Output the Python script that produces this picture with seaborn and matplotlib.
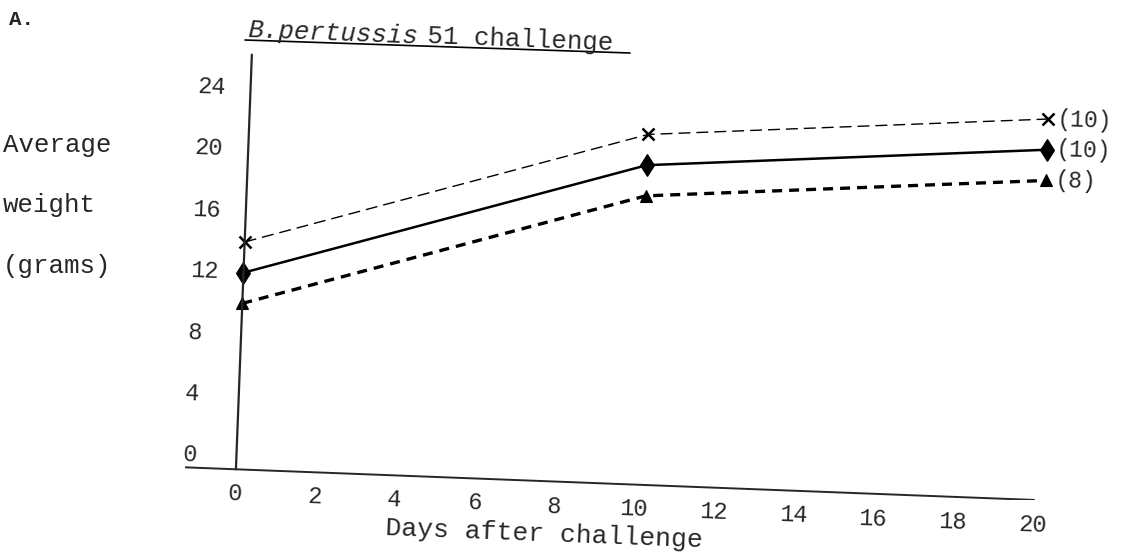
import matplotlib
matplotlib.use("Agg")
import numpy as np
import pandas as pd
import matplotlib.pyplot as plt
import seaborn as sns
from matplotlib.transforms import Affine2D
from matplotlib.lines import Line2D
import mpl_toolkits.axisartist.floating_axes as floating_axes
from mpl_toolkits.axisartist.grid_finder import FixedLocator, DictFormatter

# ---------------- data ----------------
days = [0, 10, 20]
weight_cross = [14, 22, 24]
weight_diamond = [12, 20, 22]
weight_triangle = [10, 18, 20]
n_cross = "(10)"
n_diamond = "(10)"
n_triangle = "(8)"
x_ticks = [0, 2, 4, 6, 8, 10, 12, 14, 16, 18, 20]
x_tick_labels = ["0", "2", "4", "6", "8", "10", "12", "14", "16", "18", "20"]
y_ticks = [0, 4, 8, 12, 16, 20, 24]
y_tick_labels = ["0", "4", "8", "12", "16", "20", "24"]
panel_label = "A."
title_italic = "B.pertussis"
title_rest = "51 challenge"
x_label = "Days after challenge"
y_label_lines = ["Average", "weight", "(grams)"]

# ---------------- style ----------------
sns.set_style("white")
plt.rcParams["font.family"] = ["Liberation Mono", "DejaVu Sans"]

W, H = 1129, 558
fig = plt.figure(figsize=(W / 100, H / 100), dpi=100)
fig.patch.set_facecolor("white")

# slightly rotated (scanned) frame
ANGLE = -2.2
SX, SY = 39.9, 15.37
X_EXT = (-1.28, 20.02)
Y_EXT = (-0.8, 26.2)
tr = Affine2D().scale(SX, SY).rotate_deg(ANGLE)
grid_helper = floating_axes.GridHelperCurveLinear(
    tr, extremes=(X_EXT[0], X_EXT[1], Y_EXT[0], Y_EXT[1]),
    grid_locator1=FixedLocator(x_ticks),
    grid_locator2=FixedLocator(y_ticks),
    tick_formatter1=DictFormatter(dict(zip(x_ticks, x_tick_labels))),
    tick_formatter2=DictFormatter(dict(zip(y_ticks, y_tick_labels))),
)
corners = tr.transform(np.array([[X_EXT[0], Y_EXT[0]], [X_EXT[1], Y_EXT[0]],
                                 [X_EXT[0], Y_EXT[1]], [X_EXT[1], Y_EXT[1]]]))
u0, v0 = corners.min(axis=0)
u1, v1 = corners.max(axis=0)
OX, OY = 236.4, 101.0
ax = fig.add_axes([(OX + u0) / W, (OY + v0) / H, (u1 - u0) / W, (v1 - v0) / H],
                  axes_class=floating_axes.FloatingAxes, grid_helper=grid_helper)
ax.set_xlim(u0, u1)
ax.set_ylim(v0, v1)

for side in ("left", "right", "top"):
    ax.axis[side].set_visible(False)
xa = ax.axis["bottom"]
xa.line.set_linewidth(1.4)
xa.major_ticks.set_visible(False)
xa.minor_ticks.set_visible(False)
xa.major_ticklabels.set_visible(True)
xa.major_ticklabels.set_fontsize(17)
xa.major_ticklabels.set_pad(11)
xa.label.set_visible(False)

ya = grid_helper.new_floating_axis(0, 0, axes=ax, axis_direction="left")
ax.axis["yzero"] = ya
ya.set_axis_direction("left")
ya.line.set_linewidth(1.6)
ya.major_ticks.set_visible(False)
ya.minor_ticks.set_visible(False)
ya.major_ticklabels.set_visible(True)
ya.major_ticklabels.set_fontsize(17)
ya.major_ticklabels.set_ha("left")
ya.major_ticklabels.set_pad(18)
ya.label.set_visible(False)

aux = ax.get_aux_axes(tr)

sns.lineplot(x=days, y=weight_cross, ax=aux, color="black", errorbar=None,
             linewidth=1.0, linestyle=(0, (8.6, 4.3)), marker="x", markersize=9,
             markeredgewidth=1.8, markeredgecolor="black", clip_on=False)
sns.lineplot(x=days, y=weight_diamond, ax=aux, color="black", errorbar=None,
             linewidth=1.8, linestyle="-", marker="d", markersize=11.5,
             markeredgewidth=0.8, markeredgecolor="black", markerfacecolor="black",
             clip_on=False)
sns.lineplot(x=days, y=weight_triangle, ax=aux, color="black", errorbar=None,
             linewidth=2.4, linestyle=(0, (3.0, 2.1)), marker="^", markersize=9,
             markeredgewidth=0.8, markeredgecolor="black", markerfacecolor="black",
             clip_on=False)

for vals, lab in ((weight_cross, n_cross), (weight_diamond, n_diamond),
                  (weight_triangle, n_triangle)):
    aux.annotate(lab, xy=(days[-1], vals[-1]), xytext=(6.5, 0),
                 textcoords="offset points", ha="left", va="center",
                 fontsize=16.5, rotation=ANGLE, rotation_mode="anchor",
                 annotation_clip=False)

# ---------------- texts ----------------
fig.text(9 / W, 1 - 25 / H, panel_label, fontsize=15, fontweight="bold",
         ha="left", va="baseline")
fig.text(247 / W, 1 - 37 / H, title_italic, fontsize=18.5, style="italic",
         ha="left", va="baseline", rotation=ANGLE, rotation_mode="anchor")
fig.text(427 / W, 1 - 43.5 / H, title_rest, fontsize=18.5,
         ha="left", va="baseline", rotation=ANGLE, rotation_mode="anchor")
fig.add_artist(Line2D([245 / W, 630 / W], [1 - 40 / H, 1 - 53 / H],
                      transform=fig.transFigure, color="black", linewidth=1.2))
fig.text(385 / W, 1 - 535 / H, x_label, fontsize=19, ha="left", va="baseline",
         rotation=ANGLE, rotation_mode="anchor")
for txt, yb in zip(y_label_lines, (151.7, 211.7, 273.0)):
    fig.text(3 / W, 1 - yb / H, txt, fontsize=18.5, ha="left", va="baseline")

fig.savefig("out.png", dpi=100, facecolor="white")
